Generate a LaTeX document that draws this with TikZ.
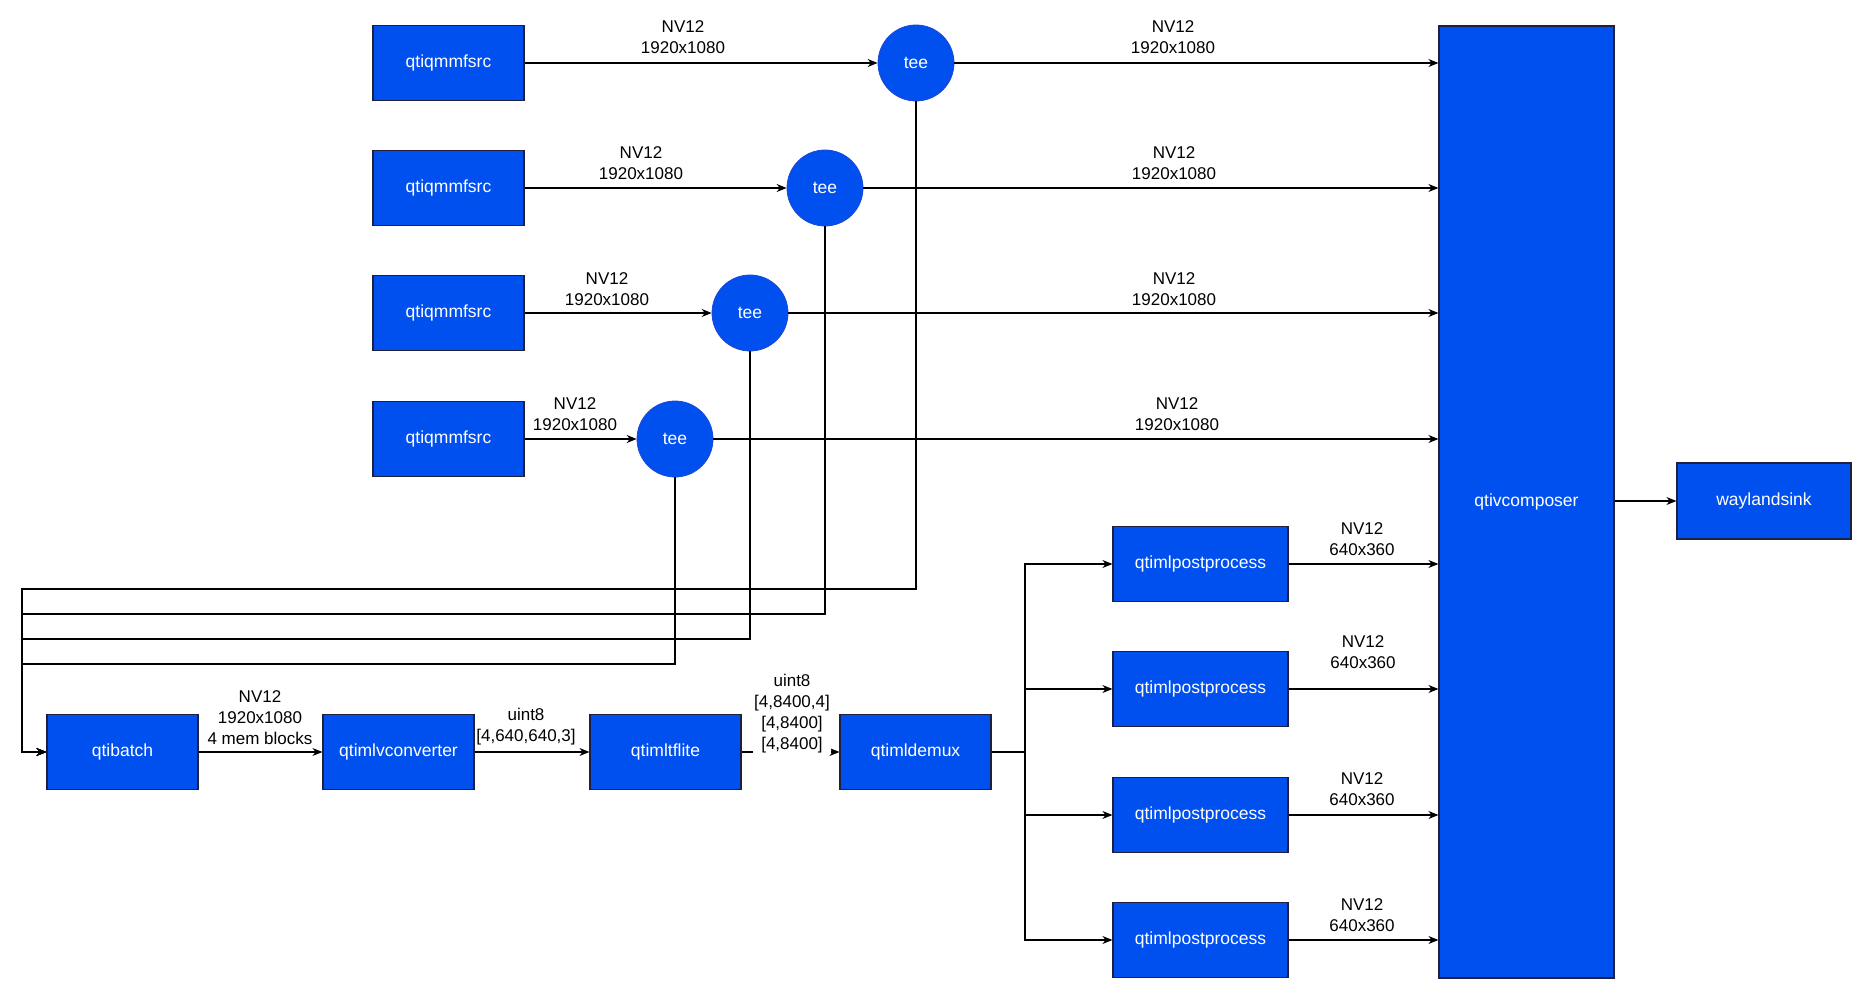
\documentclass[tikz,border=0pt]{standalone}
\usepackage{fontspec}
\setmainfont{Liberation Sans}
\usetikzlibrary{arrows.meta}
\definecolor{blkfill}{HTML}{0050EF}
\definecolor{blkline}{HTML}{1E2040}
\definecolor{teeline}{HTML}{1E46D8}
\tikzset{
  every node/.style={font=\fontsize{17}{21}\selectfont},
  blk/.style={rectangle, fill=blkfill, draw=blkline, line width=1.2pt, text=white,
    minimum width=151pt, minimum height=75pt, inner sep=0pt, font=\fontsize{17.5}{21}\selectfont},
  wide/.style={blk, minimum width=175pt},
  teenode/.style={circle, fill=blkfill, draw=teeline, line width=0.8pt, text=white,
    minimum size=76pt, inner sep=0pt, font=\fontsize{17.5}{21}\selectfont},
  lbl/.style={align=center, inner sep=1pt},
  wire/.style={draw=black, line width=1.1pt},
  flow/.style={wire, -{Stealth[length=10pt,width=8pt]}},
}
\begin{document}
\begin{tikzpicture}[x=1pt,y=-1pt]
\useasboundingbox (0,0) rectangle (1858,984);

% sources and tees
\node[blk] (src1) at (448.5,63) {qtiqmmfsrc};
\node[blk] (src2) at (448.5,188) {qtiqmmfsrc};
\node[blk] (src3) at (448.5,313) {qtiqmmfsrc};
\node[blk] (src4) at (448.5,439) {qtiqmmfsrc};
\node[teenode] (tee1) at (916,63) {tee};
\node[teenode] (tee2) at (825,188) {tee};
\node[teenode] (tee3) at (750,313) {tee};
\node[teenode] (tee4) at (675,439) {tee};

% composer and sink
\node[blk, minimum width=175pt, minimum height=952pt] (comp) at (1526.5,502) {qtivcomposer};
\node[blk, minimum width=174pt, minimum height=76pt] (sink) at (1764,501) {waylandsink};

% inference chain
\node[blk] (batch) at (122.5,752) {qtibatch};
\node[blk] (conv) at (398.5,752) {qtimlvconverter};
\node[blk] (tfl) at (665.5,752) {qtimltflite};
\node[blk] (demux) at (915.5,752) {qtimldemux};

% post processing
\node[wide] (post1) at (1200.5,564) {qtimlpostprocess};
\node[wide] (post2) at (1200.5,689) {qtimlpostprocess};
\node[wide] (post3) at (1200.5,815) {qtimlpostprocess};
\node[wide] (post4) at (1200.5,940) {qtimlpostprocess};

% routing points
\coordinate (fb1) at (22,589);
\coordinate (fb2) at (22,614);
\coordinate (fb3) at (22,639);
\coordinate (fb4) at (22,664);
\coordinate (split) at (1025,752);

% camera streams
\draw[flow] (src1) -- (tee1);
\draw[flow] (src2) -- (tee2);
\draw[flow] (src3) -- (tee3);
\draw[flow] (src4) -- (tee4);
\draw[flow] (tee1.east) -- (tee1.east -| comp.west);
\draw[flow] (tee2.east) -- (tee2.east -| comp.west);
\draw[flow] (tee3.east) -- (tee3.east -| comp.west);
\draw[flow] (tee4.east) -- (tee4.east -| comp.west);

% tee branches into the batcher
\draw[flow] (tee1.south) |- (fb1) |- (batch.west);
\draw[flow] (tee2.south) |- (fb2) |- (batch.west);
\draw[flow] (tee3.south) |- (fb3) |- (batch.west);
\draw[flow] (tee4.south) |- (fb4) |- (batch.west);

% inference chain links
\draw[flow] (batch) -- (conv);
\draw[flow] (conv) -- (tfl);
\draw[flow] (tfl) -- (demux);

% demux fan-out
\draw[wire] (demux.east) -- (split);
\draw[flow] (split) |- (post1.west);
\draw[flow] (split) |- (post2.west);
\draw[flow] (split) |- (post3.west);
\draw[flow] (split) |- (post4.west);
\draw[flow] (post1.east) -- (post1.east -| comp.west);
\draw[flow] (post2.east) -- (post2.east -| comp.west);
\draw[flow] (post3.east) -- (post3.east -| comp.west);
\draw[flow] (post4.east) -- (post4.east -| comp.west);

\draw[flow] (comp.east |- sink.west) -- (sink.west);

% stream labels
\node[lbl] (l1a) at (683,37) {NV12\\1920x1080};
\node[lbl] (l1b) at (1173,37) {NV12\\1920x1080};
\node[lbl] (l2a) at (641,163) {NV12\\1920x1080};
\node[lbl] (l2b) at (1174,163) {NV12\\1920x1080};
\node[lbl] (l3a) at (607,289) {NV12\\1920x1080};
\node[lbl] (l3b) at (1174,289) {NV12\\1920x1080};
\node[lbl] (l4a) at (575,414) {NV12\\1920x1080};
\node[lbl] (l4b) at (1177,414) {NV12\\1920x1080};

\node[lbl] (lb1) at (260,718) {NV12\\1920x1080\\4 mem blocks};
\node[lbl] (lb2) at (526,727) {uint8\\{}[4,640,640,3]};
\node[lbl, fill=white] (lb3) at (792,714) {uint8\\{}[4,8400,4]\\{}[4,8400]\\{}[4,8400]};

\node[lbl] (lp1) at (1362,539) {NV12\\640x360};
\node[lbl] (lp2) at (1363,652) {NV12\\640x360};
\node[lbl] (lp3) at (1362,789) {NV12\\640x360};
\node[lbl] (lp4) at (1362,915) {NV12\\640x360};
\end{tikzpicture}
\end{document}
